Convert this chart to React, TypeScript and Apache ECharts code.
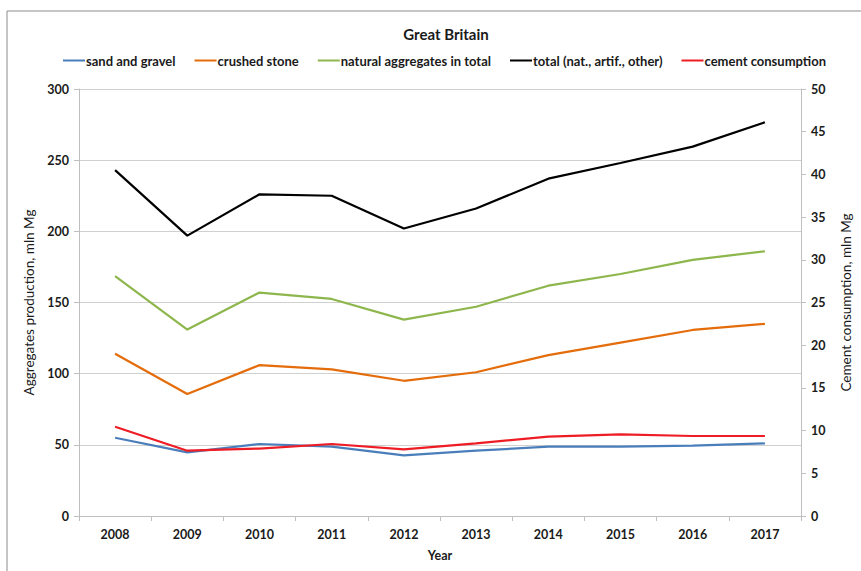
import React, { useEffect, useRef } from "react";
import * as echarts from "echarts";

const years = ["2008", "2009", "2010", "2011", "2012", "2013", "2014", "2015", "2016", "2017"];
const sandGravel = [55, 44.7, 50.6, 48.7, 42.6, 45.9, 48.7, 48.8, 49.5, 51];
const crushedStone = [114, 85.7, 106, 103, 95, 101, 113, 121.8, 130.7, 135];
const naturalTotal = [168.6, 131, 157, 152.5, 138, 147, 161.8, 170, 180, 186];
const totalAll = [243, 197, 226, 225, 202, 216, 237, 248, 259.5, 276.6];
const cement = [10.46, 7.65, 7.9, 8.43, 7.8, 8.5, 9.3, 9.56, 9.37, 9.37];

const FONT = "Lato";

export default function App() {
  const ref = useRef<HTMLDivElement>(null);
  useEffect(() => {
    if (!ref.current) return;
    const chart = echarts.init(ref.current, undefined, { renderer: "svg" });
    const mk = (name: string, data: number[], color: string, yAxisIndex = 0) => ({
      name,
      type: "line",
      data,
      yAxisIndex,
      symbol: "none",
      lineStyle: { color, width: 2.2 },
      itemStyle: { color },
    });
    chart.setOption({
      animation: false,
      backgroundColor: "#ffffff",
      textStyle: { fontFamily: FONT },
      graphic: [
        {
          type: "rect",
          shape: { x: 7, y: 11, width: 900, height: 600 },
          style: { fill: "none", stroke: "#8c8c8c", lineWidth: 1 },
          silent: true,
        },
      ],
      title: {
        text: "Great Britain",
        left: 441,
        textAlign: "center",
        top: 21,
        textStyle: { fontFamily: FONT, fontSize: 15, fontWeight: "bold", color: "#1a1a1a" },
      },
      legend: {
        top: 49,
        left: 58,
        itemWidth: 22,
        itemHeight: 2,
        itemGap: 19,
        icon: "rect",
        textStyle: { fontFamily: FONT, fontSize: 13, fontWeight: "bold", color: "#1a1a1a", padding: [0, 0, 0, -4] },
        data: [
          "sand and gravel",
          "crushed stone",
          "natural aggregates in total",
          "total (nat., artif., other)",
          "cement consumption",
        ],
      },
      grid: { left: 79, right: 49, top: 89, bottom: 55 },
      xAxis: {
        type: "category",
        data: years,
        boundaryGap: true,
        name: "Year",
        nameLocation: "middle",
        nameGap: 33,
        nameTextStyle: { fontFamily: FONT, fontSize: 12.5, fontWeight: "bold", color: "#1a1a1a" },
        axisLine: { lineStyle: { color: "#bfbfbf" } },
        axisTick: { show: true, length: 5, lineStyle: { color: "#bfbfbf" } },
        axisLabel: { fontFamily: FONT, fontSize: 12.5, fontWeight: "bold", color: "#1a1a1a", margin: 12 },
        splitLine: { show: false },
      },
      yAxis: [
        {
          type: "value",
          min: 0,
          max: 300,
          interval: 50,
          name: "Aggregates production, mln Mg",
          nameLocation: "middle",
          nameGap: 41,
          nameTextStyle: { fontFamily: FONT, fontSize: 13.5, color: "#1a1a1a" },
          axisLine: { show: true, lineStyle: { color: "#bfbfbf" } },
          axisTick: { show: true, length: 5, lineStyle: { color: "#bfbfbf" } },
          axisLabel: { fontFamily: FONT, fontSize: 12.5, fontWeight: "bold", color: "#1a1a1a", margin: 10 },
          splitLine: { show: true, lineStyle: { color: "#d0d0d0" } },
        },
        {
          type: "value",
          min: 0,
          max: 50,
          interval: 5,
          name: "Cement consumption, mln Mg",
          nameLocation: "middle",
          nameGap: 38,
          nameRotate: 90,
          nameTextStyle: { fontFamily: FONT, fontSize: 13.5, color: "#1a1a1a" },
          axisLine: { show: true, lineStyle: { color: "#bfbfbf" } },
          axisTick: { show: true, length: 5, lineStyle: { color: "#bfbfbf" } },
          axisLabel: { fontFamily: FONT, fontSize: 12.5, fontWeight: "bold", color: "#1a1a1a", margin: 10 },
          splitLine: { show: false },
        },
      ],
      series: [
        mk("sand and gravel", sandGravel, "#4a7ebb"),
        mk("crushed stone", crushedStone, "#e46c0a"),
        mk("natural aggregates in total", naturalTotal, "#8db64c"),
        mk("total (nat., artif., other)", totalAll, "#000000"),
        mk("cement consumption", cement, "#ee1c25", 1),
      ],
    });
    return () => chart.dispose();
  }, []);
  return (
    <div
      ref={ref}
      style={{ position: "absolute", left: 0, top: 0, width: 861, height: 571 }}
    />
  );
}
